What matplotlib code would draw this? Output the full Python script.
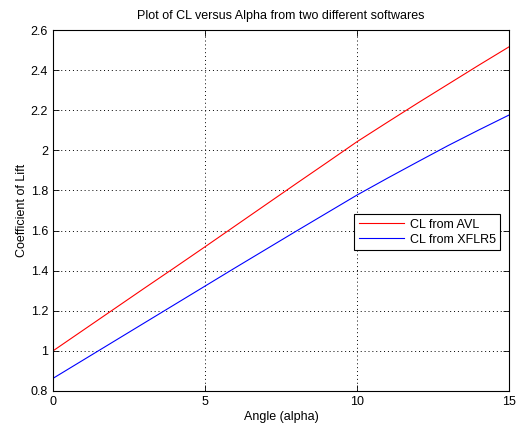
import matplotlib.pyplot as plt
import numpy as np

plt.rcParams['font.family'] = ['Liberation Sans', 'DejaVu Sans']

alpha = np.arange(0, 16)
cl_avl = [1.000, 1.104, 1.208, 1.312, 1.415, 1.519, 1.624, 1.729, 1.834, 1.938,
          2.043, 2.140, 2.236, 2.330, 2.424, 2.516]
cl_xflr5 = [0.863, 0.955, 1.047, 1.139, 1.231, 1.323, 1.415, 1.506, 1.597, 1.687,
            1.777, 1.861, 1.943, 2.024, 2.101, 2.176]

fig = plt.figure(figsize=(5.17, 4.30), dpi=100)
ax = fig.add_axes([0.1025, 0.0907, 0.882, 0.8395])

ax.plot(alpha, cl_avl, color='red', lw=0.8, label='CL from AVL')
ax.plot(alpha, cl_xflr5, color='blue', lw=0.8, label='CL from XFLR5')

ax.set_xlim(0, 15)
ax.set_ylim(0.8, 2.6)
ax.set_xticks([0, 5, 10, 15])
ax.set_yticks(np.arange(0.8, 2.61, 0.2))
ax.set_yticklabels(['0.8', '1', '1.2', '1.4', '1.6', '1.8', '2', '2.2', '2.4', '2.6'])
ax.tick_params(direction='in', top=True, right=True, labelsize=9, length=4, width=0.6)
ax.grid(True, linestyle=(0, (1, 3)), color='black', lw=0.7)
for s in ax.spines.values():
    s.set_linewidth(0.8)

ax.set_xlabel('Angle (alpha)', fontsize=9, labelpad=2)
ax.set_ylabel('Coefficient of Lift', fontsize=9, labelpad=2)
ax.set_title('Plot of CL versus Alpha from two different softwares', fontsize=9, pad=8)

leg = ax.legend(loc='center right', bbox_to_anchor=(0.995, 0.44), fontsize=9,
                fancybox=False, framealpha=1, edgecolor='black', handlelength=3.6,
                borderpad=0.35, labelspacing=0.25, handletextpad=0.5)
leg.get_frame().set_linewidth(0.8)

fig.savefig('out.png', dpi=100)
